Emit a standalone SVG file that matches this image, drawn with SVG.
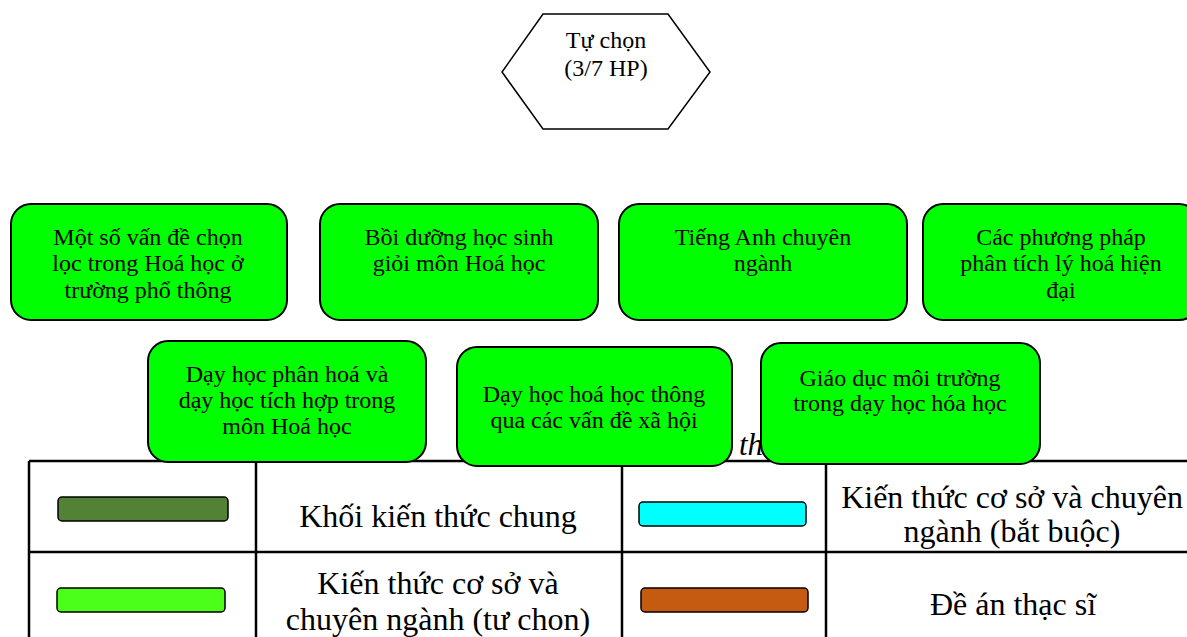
<svg xmlns="http://www.w3.org/2000/svg" width="1187" height="637" viewBox="0 0 1187 637" font-family="'Liberation Serif', 'Times New Roman', serif">
<style>
text{font-family:'Liberation Serif','Times New Roman',serif;fill:#000}
.bx{font-size:24px;text-anchor:middle}
.lg{font-size:32px;text-anchor:middle}
.node{fill:#00ff00;stroke:#000;stroke-width:2}
.ln{stroke:#000;stroke-width:2.5;fill:none}
.sw{stroke:#000;stroke-width:1.5}
</style>
<rect width="1187" height="637" fill="#fff"/>
<g id="legend">
<line class="ln" x1="29" y1="461" x2="1187" y2="461"/>
<line class="ln" x1="29" y1="552" x2="1187" y2="552"/>
<line class="ln" x1="29" y1="461" x2="29" y2="637"/>
<line class="ln" x1="256" y1="461" x2="256" y2="637"/>
<line class="ln" x1="622" y1="461" x2="622" y2="637"/>
<line class="ln" x1="826" y1="461" x2="826" y2="637"/>
<rect class="sw" x="58" y="497" width="170" height="24" rx="4" fill="#538135"/>
<text class="lg" x="438" y="527">Khối kiến thức chung</text>
<rect class="sw" x="639" y="502" width="167" height="24" rx="4" fill="#00ffff"/>
<text class="lg" x="1012" y="508">Kiến thức cơ sở và chuyên</text>
<text class="lg" x="1012" y="542">ngành (bắt buộc)</text>
<rect class="sw" x="57" y="588" width="168" height="24" rx="4" fill="#4cff1a"/>
<text class="lg" x="438" y="594">Kiến thức cơ sở và</text>
<text class="lg" x="438" y="630">chuyên ngành (tư chon)</text>
<rect class="sw" x="641" y="588" width="167" height="24" rx="4" fill="#c55a11"/>
<text class="lg" x="1013" y="615">Đề án thạc sĩ</text>
<text x="739" y="455" font-size="31" font-style="italic">th</text>
</g>
<g id="connectors"></g>
<g id="hex">
<polygon points="543,14 668,14 710,72 668,129 543,129 502,72" fill="#fff" stroke="#000" stroke-width="1.5"/>
<text class="bx" x="606" y="48">Tự chọn</text>
<text class="bx" x="606" y="76">(3/7 HP)</text>
</g>
<g id="n1">
<rect class="node" x="11" y="204" width="276" height="116" rx="20"/>
<text class="bx" x="148" y="245">Một số vấn đề chọn</text>
<text class="bx" x="148" y="271">lọc trong Hoá học ở</text>
<text class="bx" x="148" y="298">trường phổ thông</text>
</g>
<g id="n2">
<rect class="node" x="320" y="204" width="278" height="116" rx="20"/>
<text class="bx" x="459" y="245">Bồi dưỡng học sinh</text>
<text class="bx" x="459" y="271">giỏi môn Hoá học</text>
</g>
<g id="n3">
<rect class="node" x="619" y="204" width="288" height="116" rx="20"/>
<text class="bx" x="763" y="245">Tiếng Anh chuyên</text>
<text class="bx" x="763" y="271">ngành</text>
</g>
<g id="n4">
<rect class="node" x="923" y="204" width="276" height="116" rx="20"/>
<text class="bx" x="1061" y="245">Các phương pháp</text>
<text class="bx" x="1061" y="271">phân tích lý hoá hiện</text>
<text class="bx" x="1061" y="298">đại</text>
</g>
<g id="n5">
<rect class="node" x="148" y="341" width="278" height="121" rx="20"/>
<text class="bx" x="287" y="382">Dạy học phân hoá và</text>
<text class="bx" x="287" y="408">dạy học tích hợp trong</text>
<text class="bx" x="287" y="434">môn Hoá học</text>
</g>
<g id="n6">
<rect class="node" x="457" y="347" width="275" height="119" rx="20"/>
<text class="bx" x="594" y="402">Dạy học hoá học thông</text>
<text class="bx" x="594" y="428">qua các vấn đề xã hội</text>
</g>
<g id="n7">
<rect class="node" x="761" y="343" width="279" height="121" rx="20"/>
<text class="bx" x="900" y="386">Giáo dục môi trường</text>
<text class="bx" x="900" y="411">trong dạy học hóa học</text>
</g>
</svg>
